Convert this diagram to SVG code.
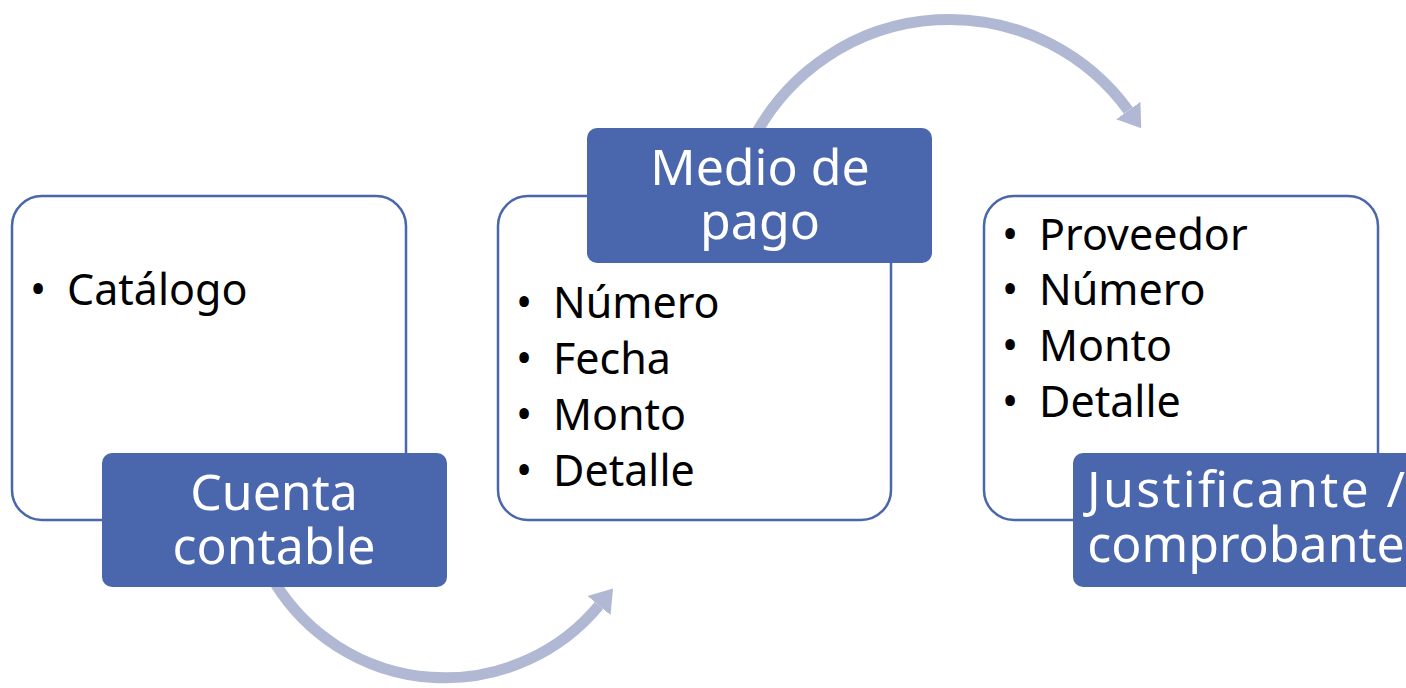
<svg xmlns="http://www.w3.org/2000/svg" width="1406" height="688" viewBox="0 0 1406 688">
<style>
.box{fill:#fff;stroke:#4A66AC;stroke-width:2.5}
.lbl{fill:#4A66AC}
.bt{font-family:"Noto Sans","Open Sans",sans-serif;font-size:43px;fill:#000}
.lt{font-family:"Noto Sans","Open Sans",sans-serif;font-size:50px;fill:#fff;text-anchor:middle}
.arc{fill:none;stroke:#B0B8D4;stroke-width:11}
</style>
<defs>
<marker id="ah" markerUnits="userSpaceOnUse" viewBox="0 -16 24 32" refX="0" refY="0" markerWidth="24" markerHeight="32" orient="auto">
<path d="M0,-15 L22,0 L0,15 z" fill="#B0B8D4"/>
</marker>
</defs>
<g id="node1">
<rect class="box" x="12" y="196" width="394" height="324" rx="30"/>
<text class="bt" x="30" y="305">•</text>
<text class="bt" x="67" y="305">Catálogo</text>
</g>
<g id="node2">
<rect class="box" x="498" y="196" width="393" height="324" rx="30"/>
<text class="bt"><tspan x="516" y="318">•</tspan><tspan x="516" y="374">•</tspan><tspan x="516" y="430">•</tspan><tspan x="516" y="486">•</tspan></text>
<text class="bt"><tspan x="553" y="318">Número</tspan><tspan x="553" y="374">Fecha</tspan><tspan x="553" y="430">Monto</tspan><tspan x="553" y="486">Detalle</tspan></text>
</g>
<g id="node3">
<rect class="box" x="984" y="196" width="394" height="324" rx="30"/>
<text class="bt"><tspan x="1002" y="250">•</tspan><tspan x="1002" y="305">•</tspan><tspan x="1002" y="361">•</tspan><tspan x="1002" y="417">•</tspan></text>
<text class="bt"><tspan x="1039" y="250">Proveedor</tspan><tspan x="1039" y="305">Número</tspan><tspan x="1039" y="361">Monto</tspan><tspan x="1039" y="417">Detalle</tspan></text>
</g>
<g id="connectors">
<path class="arc" d="M275,583 A200,200 0 0 0 599,605.5" marker-end="url(#ah)"/>
<path class="arc" d="M757,132 A221,221 0 0 1 1128.3,110.5" marker-end="url(#ah)"/>
</g>
<g id="label1">
<rect class="lbl" x="102" y="453" width="345" height="134" rx="10"/>
<text class="lt"><tspan x="274" y="510">Cuenta</tspan><tspan x="274" y="564">contable</tspan></text>
</g>
<g id="label2">
<rect class="lbl" x="587" y="128" width="345" height="135" rx="10"/>
<text class="lt"><tspan x="760" y="185">Medio de</tspan><tspan x="760" y="239">pago</tspan></text>
</g>
<g id="label3">
<rect class="lbl" x="1073" y="453" width="345" height="134" rx="10"/>
<text class="lt"><tspan x="1246" y="507" textLength="318" lengthAdjust="spacing">Justificante /</tspan><tspan x="1246" y="562">comprobante</tspan></text>
</g>
</svg>
